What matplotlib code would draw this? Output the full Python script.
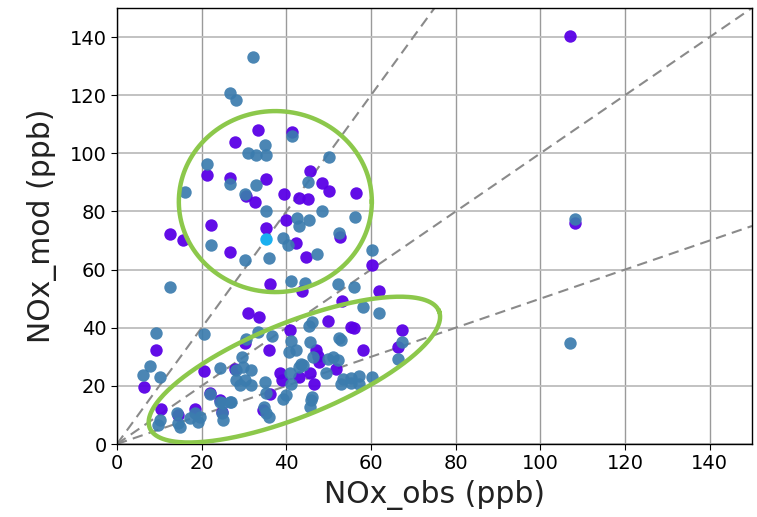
import numpy as np
import matplotlib
matplotlib.use("Agg")
import matplotlib.pyplot as plt

# ---- data ----
purple_x = [107.1, 108.3, 33.4, 41.4, 27.9, 21.3, 45.7, 26.7, 35.1, 48.5, 50.1, 56.4, 39.4, 43.0, 45.0,
            30.4, 32.7, 40.0, 22.1, 35.2, 52.7, 12.5, 15.7, 42.2, 26.7, 44.7, 60.3, 36.2, 43.6, 62.0,
            53.1, 30.9, 33.5, 49.8, 55.3, 56.0, 40.8, 67.3, 30.2, 9.3, 35.9, 66.3, 58.0, 47.0, 47.4,
            47.8, 20.6, 6.4, 27.8, 38.6, 39.0, 43.1, 45.5, 46.6, 51.7, 36.2, 21.9, 24.3, 34.5, 24.7,
            10.3, 14.4, 18.4]
purple_y = [140.4, 76.2, 108.1, 107.2, 104.0, 92.7, 94.0, 91.6, 91.0, 89.7, 87.0, 86.2, 86.1, 84.7, 84.3,
            85.2, 83.4, 77.2, 75.5, 74.3, 71.1, 72.2, 70.2, 69.1, 66.1, 64.5, 61.6, 55.1, 52.5, 52.6,
            49.3, 45.0, 43.6, 42.4, 40.4, 40.0, 39.2, 39.3, 34.8, 32.4, 32.5, 33.5, 32.3, 32.5, 30.2,
            28.2, 25.0, 19.6, 25.8, 24.3, 22.0, 23.2, 24.3, 20.8, 25.7, 17.1, 17.5, 15.1, 11.7, 11.1,
            12.2, 10.0, 12.2]

blue_x = [107.1, 108.3, 32.1, 26.8, 28.0, 41.4, 34.9, 30.9, 32.9, 35.3, 50.0, 21.3, 26.8, 32.8, 45.2,
          16.1, 30.2, 35.2, 48.5, 42.5, 45.4, 43.1, 56.3, 52.5, 39.2, 40.4, 22.1, 60.3, 47.2, 30.3,
          35.8, 12.5, 41.2, 44.5, 52.1, 55.9, 58.0, 62.0, 46.0, 45.3, 9.3, 20.5, 33.3, 36.6, 30.4,
          41.1, 45.6, 42.3, 52.4, 52.9, 40.6, 29.6, 67.3, 66.4, 46.3, 49.8, 51.0, 52.1, 43.5, 7.8,
          6.2, 10.2, 24.4, 28.2, 29.8, 31.7, 28.2, 30.2, 29.0, 31.7, 34.9, 35.3, 40.8, 41.1, 43.1,
          40.0, 39.2, 43.9, 49.4, 53.3, 55.3, 57.2, 60.2, 52.9, 55.3, 57.2, 46.1, 45.8, 45.5, 34.7,
          35.3, 36.0, 21.9, 25.0, 27.0, 26.6, 24.3, 25.0, 24.7, 10.1, 9.7, 14.1, 14.4, 14.8, 17.2,
          18.4, 19.2, 19.6]
blue_y = [34.6, 77.5, 133.0, 120.9, 118.4, 106.0, 103.0, 100.1, 99.5, 99.5, 98.9, 96.2, 89.4, 89.0, 90.1,
          86.6, 86.0, 80.0, 80.2, 77.7, 77.1, 75.0, 78.2, 72.6, 70.9, 68.3, 68.3, 66.8, 65.3, 63.4,
          63.9, 54.0, 56.2, 55.3, 55.0, 53.9, 47.2, 45.1, 42.1, 40.5, 38.1, 37.9, 38.6, 37.2, 36.2,
          35.4, 35.1, 32.3, 36.6, 35.9, 31.7, 30.0, 35.0, 29.3, 30.0, 29.4, 29.8, 28.8, 27.5, 26.8,
          23.8, 23.1, 26.2, 25.4, 26.5, 25.4, 22.0, 22.0, 20.3, 20.3, 21.2, 17.4, 24.3, 20.8, 26.5,
          16.8, 15.6, 27.1, 24.3, 22.3, 22.8, 23.5, 23.1, 20.8, 21.0, 20.6, 16.3, 15.0, 12.8, 12.8,
          10.5, 9.4, 17.2, 14.0, 14.5, 14.5, 14.5, 8.2, 10.5, 8.2, 6.5, 10.5, 7.1, 5.9, 8.8,
          10.5, 7.7, 9.4]

cyan_x = [35.3]
cyan_y = [70.4]

ref_slopes = [2.0, 1.0, 0.5]
ticks = [0, 20, 40, 60, 80, 100, 120, 140]

# ---- figure ----
W, H = 757, 517
fig = plt.figure(figsize=(W / 100, H / 100), dpi=100)
ax = fig.add_axes([117 / W, 73 / H, 635 / W, 436 / H])

ax.set_xlim(0, 150)
ax.set_ylim(0, 150)
ax.set_xticks(ticks)
ax.set_yticks(ticks)
ax.xaxis.grid(True, color="#9a9a9a", linewidth=1.0)
ax.yaxis.grid(True, color="#bdbdbd", linewidth=1.3)
ax.set_axisbelow(True)

xs = np.array([0, 150])
for k in ref_slopes:
    ax.plot(xs, k * xs, linestyle=(0, (5, 3)), color="#8a8a8a", linewidth=1.5, zorder=2)

ax.scatter(purple_x, purple_y, s=80, color="#5a00e6", linewidths=0, alpha=0.95, zorder=3)
ax.scatter(blue_x, blue_y, s=80, color="#3b7cae", linewidths=0, alpha=0.92, zorder=4)
ax.scatter(cyan_x, cyan_y, s=80, color="#1ab0f0", linewidths=0, zorder=5)

# green ellipses (drawn in pixel-like proportions)
sx = 635 / 150.0
sy = 436 / 150.0
t = np.linspace(0, 2 * np.pi, 300)

def ellipse(cx, cy, a_px, b_px, ang_deg):
    th = np.deg2rad(ang_deg)
    dx = a_px * np.cos(t) * np.cos(th) - b_px * np.sin(t) * np.sin(th)
    dy = a_px * np.cos(t) * np.sin(th) + b_px * np.sin(t) * np.cos(th)
    ax.plot(cx + dx / sx, cy + dy / sy, color="#8cc84b", linewidth=3.2, zorder=6)

ellipse(37.4, 83.4, 96.5, 90.5, 0)
ellipse(41.9, 25.6, 156, 47, 22)

ax.tick_params(axis="both", labelsize=14, length=4, color="black")
for sp in ax.spines.values():
    sp.set_color("black")
    sp.set_linewidth(1.0)

ax.set_xlabel("NOx_obs (ppb)", fontsize=21.5, color="#222222", labelpad=5)
ax.set_ylabel("NOx_mod (ppb)", fontsize=21.5, color="#222222", labelpad=9)

fig.savefig("out.png", dpi=100)
